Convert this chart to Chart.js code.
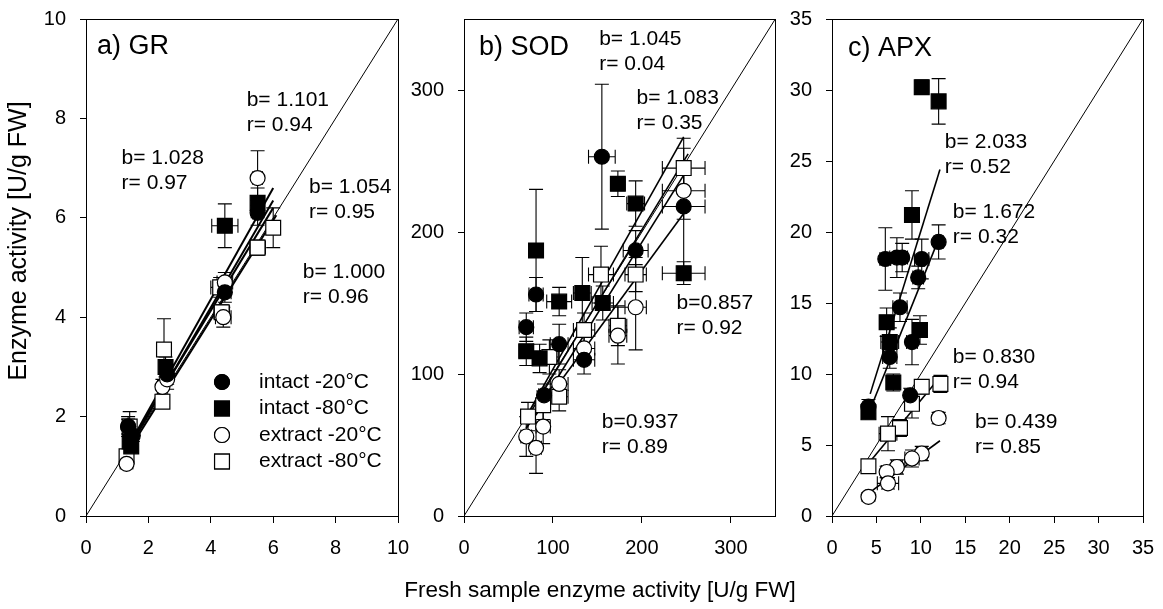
<!DOCTYPE html>
<html>
<head>
<meta charset="utf-8">
<script src="https://cdn.jsdelivr.net/npm/chart.js@4.4.0/dist/chart.umd.min.js"></script>
<style>
body{margin:0;background:#fff;width:1163px;height:609px;overflow:hidden;position:relative;font-family:"Liberation Sans",Arial,sans-serif}
canvas{position:absolute;top:0}
#xt{position:absolute;left:300px;width:600px;top:576px;text-align:center;font-size:22.5px;line-height:28px;color:#000}
</style>
</head>
<body>
<canvas id="gr" width="410" height="609" style="left:0"></canvas>
<canvas id="sod" width="377" height="609" style="left:410px"></canvas>
<canvas id="apx" width="376" height="609" style="left:787px"></canvas>
<div id="xt">Fresh sample enzyme activity [U/g FW]</div>
<script>
const FONT = '"Liberation Sans", Arial, sans-serif';
const seriesNames = ['intact -20°C', 'intact -80°C', 'extract -20°C', 'extract -80°C'];

// each point: [fresh, stored, x error, y error]
// a) GR
const grTicks = [0, 2, 4, 6, 8, 10];
const grIntact20 = [[1.35,1.8,0.1,0.15],[1.5,1.62,0.1,0.12],[2.6,2.85,0.15,0.2],[4.45,4.5,0.2,0.2],[5.5,6.1,0.15,0.25]];
const grIntact80 = [[1.4,1.5,0.1,0.1],[1.45,1.4,0.1,0.1],[2.55,3.0,0.15,0.2],[4.45,5.84,0.42,0.44],[5.5,6.3,0.15,0.3]];
const grExtract20 = [[1.3,1.05,0.1,0.1],[1.35,1.8,0.1,0.2],[2.45,2.6,0.15,0.15],[2.6,2.75,0.15,0.2],[4.4,4.0,0.25,0.2],[4.45,4.7,0.25,0.2],[5.5,6.8,0.15,0.55]];
const grExtract80 = [[1.3,1.2,0.1,0.1],[1.4,1.8,0.15,0.3],[2.45,2.3,0.1,0.1],[2.5,3.35,0.15,0.62],[4.35,4.1,0.25,0.15],[4.3,4.6,0.3,0.2],[5.5,5.4,0.25,0.15],[6.0,5.8,0.2,0.4]];
const grFits = [[1.4,1.45,6.0,6.6],[1.4,1.4,6.0,6.35],[1.45,1.5,6.0,6.2],[1.4,1.35,6.1,6.05]];
const grNotes = [[5.15,8.37,'b= 1.101','r= 0.94'],[1.14,7.2,'b= 1.028','r= 0.97'],[7.15,6.62,'b= 1.054','r= 0.95'],[6.95,4.91,'b= 1.000','r= 0.96']];

// b) SOD
const sodTicks = [0, 100, 200, 300];
const sodIntact20 = [[70,133,8,10],[81,156,8,12],[107,121,10,14],[135,110,12,10],[155,253,15,51],[193,187,14,14],[247,218,24,48],[90,85,6,8]];
const sodIntact80 = [[70,116,8,10],[81,187,6,43],[85,111,8,10],[107,151,14,10],[133,157,10,25],[156,150,12,12],[173,234,8,9],[193,220,10,16],[247,171,24,8]];
const sodExtract20 = [[70,56,6,14],[81,48,6,18],[89,63,8,12],[107,93,10,10],[135,118,12,10],[173,127,10,20],[193,147,12,30],[247,229,24,20]];
const sodExtract80 = [[72,70,8,10],[89,78,8,10],[96,112,10,12],[107,84,10,10],[135,131,12,12],[154,170,14,20],[173,134,10,14],[193,170,12,12],[247,245,24,14]];
const sodFits = [[70,70,247,267],[70,68,252,255],[70,62,247,240],[70,62,247,213]];
const sodNotes = [[152,336,'b= 1.045','r= 0.04'],[194,294.5,'b= 1.083','r= 0.35'],[239,149.7,'b=0.857','r= 0.92'],[155,66,'b=0.937','r= 0.89']];

// c) APX
const apxTicks = [0, 5, 10, 15, 20, 25, 30, 35];
const apxIntact20 = [[4.1,7.7,0.3,0.5],[6.0,18.1,0.6,2.2],[7.3,18.2,0.8,1.4],[7.9,18.2,0.6,1.0],[10.1,18.1,0.8,1.4],[9.7,16.8,0.6,0.8],[7.65,14.7,0.8,1.0],[9.0,12.25,0.6,1.6],[6.5,11.2,0.8,0.8],[8.8,8.5,0.6,0.5],[12.0,19.3,0.5,1.2]];
const apxIntact80 = [[4.1,7.3,0.3,0.4],[10.1,30.2,0.4,0.5],[12.0,29.2,0.5,1.6],[9.0,21.2,0.5,1.7],[6.15,13.65,0.8,1.0],[6.5,12.25,1.0,1.0],[9.9,13.1,0.6,1.0],[6.9,9.4,0.5,0.6]];
const apxExtract20 = [[12.0,6.9,0.5,0.4],[10.1,4.4,0.6,0.5],[9.0,4.05,0.8,0.6],[7.3,3.45,0.6,0.5],[6.15,3.1,0.6,0.4],[6.3,2.3,1.2,0.4],[4.1,1.35,0.3,0.3]];
const apxExtract80 = [[10.1,9.1,0.6,0.5],[12.2,9.3,0.5,0.6],[9.0,7.9,0.8,1.0],[7.65,6.2,0.8,0.6],[6.3,5.8,1.0,1.2],[4.1,3.5,0.3,0.3]];
const apxFits = [[4.3,8.6,12.15,24.4],[4.1,7.2,12.0,19.5],[4.1,3.7,12.3,9.9],[4.1,1.6,12.15,5.3]];
const apxNotes = [[12.7,26.3,'b= 2.033','r= 0.52'],[13.6,21.4,'b= 1.672','r= 0.32'],[13.6,11.2,'b= 0.830','r= 0.94'],[16.1,6.6,'b= 0.439','r= 0.85']];

const styles = [
  {pointStyle:'circle', radius:7.5, fill:'#000'},
  {pointStyle:'rect', radius:10.5, fill:'#000'},
  {pointStyle:'circle', radius:7.5, fill:'#fff'},
  {pointStyle:'rect', radius:10.5, fill:'#fff'}
];

const toPts = a => a.map(p => ({x:p[0], y:p[1], ex:p[2], ey:p[3]}));

// error bars under the markers
const errorBars = {
  id:'errorBars',
  beforeDatasetsDraw(chart){
    const {ctx, scales:{x, y}} = chart;
    const cap = 7;
    ctx.save();
    ctx.strokeStyle = '#000';
    ctx.lineWidth = 1.1;
    chart.data.datasets.forEach(ds => {
      if (!ds.err) return;
      ds.data.forEach(p => {
        const px = x.getPixelForValue(p.x), py = y.getPixelForValue(p.y);
        const x0 = x.getPixelForValue(p.x - p.ex), x1 = x.getPixelForValue(p.x + p.ex);
        const y0 = y.getPixelForValue(p.y - p.ey), y1 = y.getPixelForValue(p.y + p.ey);
        ctx.beginPath();
        ctx.moveTo(x0, py); ctx.lineTo(x1, py);
        ctx.moveTo(x0, py - cap); ctx.lineTo(x0, py + cap);
        ctx.moveTo(x1, py - cap); ctx.lineTo(x1, py + cap);
        ctx.moveTo(px, y0); ctx.lineTo(px, y1);
        ctx.moveTo(px - cap, y0); ctx.lineTo(px + cap, y0);
        ctx.moveTo(px - cap, y1); ctx.lineTo(px + cap, y1);
        ctx.stroke();
      });
    });
    ctx.restore();
  }
};

// frame, panel title, b/r notes, legend, y title
const decor = {
  id:'decor',
  afterDraw(chart){
    const {ctx, chartArea:a, scales:{x, y}} = chart;
    const o = chart.options.plugins.decor;
    ctx.save();
    ctx.strokeStyle = '#000';
    ctx.lineWidth = 1;
    ctx.strokeRect(Math.round(a.left) + 0.5, Math.round(a.top) + 0.5, Math.round(a.right - a.left), Math.round(a.bottom - a.top));
    ctx.fillStyle = '#000';
    ctx.textBaseline = 'middle';
    ctx.textAlign = 'left';
    ctx.font = '27px ' + FONT;
    ctx.fillText(o.title, x.getPixelForValue(o.titlePos[0]), y.getPixelForValue(o.titlePos[1]));
    ctx.font = '21px ' + FONT;
    o.notes.forEach(n => {
      const px = x.getPixelForValue(n[0]), py = y.getPixelForValue(n[1]);
      ctx.fillText(n[2], px, py);
      ctx.fillText(n[3], px, py + 25);
    });
    if (o.legend) {
      seriesNames.forEach((name, i) => {
        const s = styles[i];
        const cy = a.top + 363 + i * 26.5, cx = a.left + 136;
        Chart.helpers.drawPoint(ctx, {pointStyle:s.pointStyle, radius:s.radius, borderWidth:1.2}, cx, cy);
        ctx.fillStyle = s.fill; ctx.strokeStyle = '#000'; ctx.lineWidth = 1.2;
        ctx.fill(); ctx.stroke();
        ctx.fillStyle = '#000';
        ctx.fillText(name, a.left + 173, cy);
      });
    }
    if (o.yTitle) {
      ctx.translate(19, 241);
      ctx.rotate(-Math.PI / 2);
      ctx.textAlign = 'center';
      ctx.font = '25px ' + FONT;
      ctx.fillText(o.yTitle, 0, 0);
    }
    ctx.restore();
  }
};

function makePanel(id, opt){
  const sets = opt.series.map((d, i) => ({
    type:'scatter',
    label:seriesNames[i],
    data:toPts(d),
    err:true,
    pointStyle:styles[i].pointStyle,
    pointRadius:styles[i].radius,
    pointHoverRadius:styles[i].radius,
    backgroundColor:styles[i].fill,
    borderColor:'#000',
    borderWidth:1.2
  }));
  opt.fits.forEach(f => sets.push({
    type:'line',
    data:[{x:f[0], y:f[1]}, {x:f[2], y:f[3]}],
    borderColor:'#000',
    borderWidth:opt.fitWidth,
    pointRadius:0,
    fill:false
  }));
  sets.push({
    type:'line',
    data:[{x:0, y:0}, {x:opt.max, y:opt.max}],
    borderColor:'#000',
    borderWidth:1,
    pointRadius:0,
    fill:false
  });
  const tickFont = {family:FONT, size:20};
  return new Chart(document.getElementById(id), {
    type:'scatter',
    data:{datasets:sets},
    options:{
      responsive:false,
      animation:false,
      events:[],
      layout:{padding:{left:0, right:opt.padRight, top:19, bottom:0}},
      plugins:{
        legend:{display:false},
        tooltip:{enabled:false},
        decor:{title:opt.title, titlePos:opt.titlePos, notes:opt.notes, legend:opt.legend, yTitle:opt.yTitle}
      },
      scales:{
        x:{
          type:'linear', min:0, max:opt.max,
          afterBuildTicks:s => { s.ticks = opt.ticks.map(v => ({value:v})); },
          afterFit:s => { s.height = 93; s.paddingLeft = 0; s.paddingRight = 0; },
          grid:{drawOnChartArea:false, drawTicks:true, tickLength:7, color:'#000', tickColor:'#000'},
          border:{display:true, color:'#000', width:1},
          ticks:{color:'#000', font:tickFont, padding:13, maxRotation:0, autoSkip:false}
        },
        y:{
          type:'linear', min:0, max:opt.max,
          afterBuildTicks:s => { s.ticks = opt.ticks.map(v => ({value:v})); },
          afterFit:s => { s.width = opt.yWidth; s.paddingTop = 0; s.paddingBottom = 0; },
          grid:{drawOnChartArea:false, drawTicks:true, tickLength:6, color:'#000', tickColor:'#000'},
          border:{display:true, color:'#000', width:1},
          ticks:{color:'#000', font:tickFont, padding:14, autoSkip:false}
        }
      }
    },
    plugins:[errorBars, decor]
  });
}

makePanel('gr', {
  series:[grIntact20, grIntact80, grExtract20, grExtract80],
  fits:grFits, fitWidth:2, notes:grNotes, ticks:grTicks, max:10,
  title:'a) GR', titlePos:[0.35, 9.44], legend:true,
  yTitle:'Enzyme activity [U/g FW]', yWidth:86, padRight:12
});
makePanel('sod', {
  series:[sodIntact20, sodIntact80, sodExtract20, sodExtract80],
  fits:sodFits, fitWidth:1.6, notes:sodNotes, ticks:sodTicks, max:350,
  title:'b) SOD', titlePos:[16.8, 329.6], legend:false,
  yWidth:54, padRight:10
});
makePanel('apx', {
  series:[apxIntact20, apxIntact80, apxExtract20, apxExtract80],
  fits:apxFits, fitWidth:1.6, notes:apxNotes, ticks:apxTicks, max:35,
  title:'c) APX', titlePos:[1.8, 32.9], legend:false,
  yWidth:45, padRight:20
});
</script>
</body>
</html>
